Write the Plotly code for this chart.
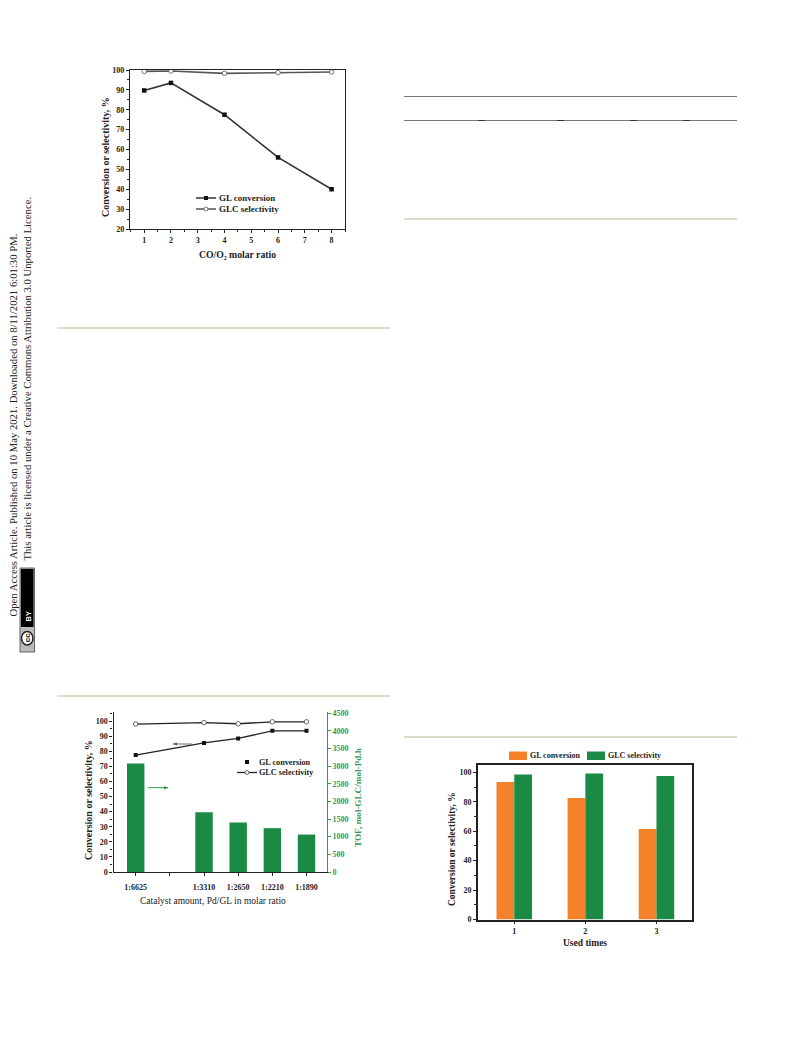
import plotly.graph_objects as go

W, H = 793, 1039
SERIF = "Liberation Serif"
SANS = "Liberation Sans"

# --- data ---
ratio_x = [1, 2, 4, 6, 8]
ratio_conv = [89.7, 93.5, 77.5, 56.0, 40.0]
ratio_sel = [99.3, 99.5, 98.3, 98.7, 99.0]

cat_pos = [0, 2, 3, 4, 5]
cat_tick_text = ["1:6625", "1:3310", "1:2650", "1:2210", "1:1890"]
cat_conv = [77.5, 85.5, 88.5, 93.5, 93.5]
cat_sel = [98.0, 99.0, 98.2, 99.5, 99.5]
cat_tof = [3070, 1695, 1400, 1240, 1060]

used_x = [1, 2, 3]
used_conv = [93.5, 82.5, 61.5]
used_sel = [98.5, 99.3, 97.5]

BLACK = "#222222"
GREEN = "#1b8a45"
GREEN_TXT = "#2f9a5c"
ORANGE = "#f5822a"
RULE = "#dcdccb"


def px(x):
    return x / W


def py(y):
    return 1 - y / H


fig = go.Figure()

# chart 1
fig.add_trace(go.Scatter(x=ratio_x, y=ratio_conv, name="GL conversion", xaxis="x", yaxis="y",
                         mode="lines+markers", line=dict(color="#333333", width=1.6),
                         marker=dict(symbol="square", size=4.5, color="#111111")))
fig.add_trace(go.Scatter(x=ratio_x, y=ratio_sel, name="GLC selectivity", xaxis="x", yaxis="y",
                         mode="lines+markers", line=dict(color="#555555", width=1.6),
                         marker=dict(symbol="circle", size=4.5, color="white", line=dict(color="#555555", width=0.8))))

# chart 2
fig.add_trace(go.Bar(x=cat_pos, y=cat_tof, name="TOF", xaxis="x2", yaxis="y3", width=0.51,
                     marker=dict(color=GREEN, line=dict(width=0))))
fig.add_trace(go.Scatter(x=cat_pos, y=cat_conv, name="GL conversion", xaxis="x2", yaxis="y2",
                         mode="lines+markers", line=dict(color="#222222", width=1.3),
                         marker=dict(symbol="square", size=4, color="#111111")))
fig.add_trace(go.Scatter(x=cat_pos, y=cat_sel, name="GLC selectivity", xaxis="x2", yaxis="y2",
                         mode="lines+markers", line=dict(color="#222222", width=1.3),
                         marker=dict(symbol="circle", size=4.5, color="white", line=dict(color="#444444", width=0.8))))

# chart 3
fig.add_trace(go.Bar(x=used_x, y=used_conv, name="GL conversion", xaxis="x4", yaxis="y4",
                     marker=dict(color=ORANGE, line=dict(width=0))))
fig.add_trace(go.Bar(x=used_x, y=used_sel, name="GLC selectivity", xaxis="x4", yaxis="y4",
                     marker=dict(color=GREEN, line=dict(width=0))))

tick_font = dict(family=SERIF, size=8, color="#222222", weight="bold")
green_font = dict(family=SERIF, size=8, color=GREEN_TXT, weight="bold")

fig.update_layout(
    width=W, height=H, margin=dict(l=0, r=0, t=0, b=0, pad=0, autoexpand=False), autosize=False,
    paper_bgcolor="white", plot_bgcolor="rgba(0,0,0,0)", showlegend=False,
    barmode="group", bargap=0.5, bargroupgap=0,
    font=dict(family=SERIF, color="#222222"),
    xaxis=dict(domain=[px(130), px(345)], range=[0.47, 8.5], anchor="y", tickvals=list(range(1, 9)),
               ticks="outside", ticklen=3, tickwidth=1, tickcolor=BLACK, tickfont=tick_font,
               showline=True, mirror=True, linecolor=BLACK, linewidth=1.3, showgrid=False, zeroline=False,
               ticklabelstandoff=0,
               minor=dict(tick0=0.5, dtick=1, ticks="outside", ticklen=2, tickcolor=BLACK, showgrid=False)),
    yaxis=dict(domain=[py(229), py(70)], range=[20, 100], anchor="x", dtick=10,
               ticks="outside", ticklen=3, tickwidth=1, tickcolor=BLACK, tickfont=tick_font,
               showline=True, mirror=True, linecolor=BLACK, linewidth=1.3, showgrid=False, zeroline=False,
               minor=dict(dtick=5, ticks="outside", ticklen=2, tickcolor=BLACK, showgrid=False)),
    xaxis2=dict(domain=[px(113.5), px(327)], range=[-0.65, 5.6], anchor="y2", tickvals=cat_pos,
                ticktext=cat_tick_text, ticks="outside", ticklen=3, tickwidth=1, tickcolor=BLACK,
                tickfont=tick_font, showline=True, linecolor=BLACK, linewidth=1.2, showgrid=False,
                zeroline=False, ticklabelstandoff=4,
                minor=dict(tick0=0, dtick=1, ticks="outside", ticklen=3, tickcolor=BLACK, showgrid=False)),
    yaxis2=dict(domain=[py(872), py(712)], range=[0, 106], anchor="x2", dtick=10,
                ticks="outside", ticklen=3, tickwidth=1, tickcolor=BLACK, tickfont=tick_font,
                showline=True, linecolor=BLACK, linewidth=1.2, showgrid=False, zeroline=False,
                minor=dict(dtick=5, ticks="outside", ticklen=2, tickcolor=BLACK, showgrid=False)),
    yaxis3=dict(domain=[py(872), py(712)], range=[0, 4530], anchor="x2", overlaying="y2", side="right",
                dtick=500, ticks="outside", ticklen=3, tickwidth=1, tickcolor=GREEN_TXT, tickfont=green_font,
                showline=True, linecolor=GREEN_TXT, linewidth=1, showgrid=False, zeroline=False),
    xaxis4=dict(domain=[px(478), px(692)], range=[0.49, 3.5], anchor="y4", tickvals=used_x,
                ticks="outside", ticklen=3, tickwidth=1, tickcolor=BLACK, tickfont=tick_font,
                showline=True, mirror=True, linecolor=BLACK, linewidth=1.6, showgrid=False, zeroline=False,
                ticklabelstandoff=0),
    yaxis4=dict(domain=[py(919.5), py(765)], range=[0, 105], anchor="x4", dtick=20,
                ticks="outside", ticklen=3, tickwidth=1, tickcolor=BLACK, tickfont=tick_font,
                showline=True, mirror=True, linecolor=BLACK, linewidth=1.6, showgrid=False, zeroline=False,
                minor=dict(dtick=10, ticks="outside", ticklen=2, tickcolor=BLACK, showgrid=False)),
)


def label(text, x, y, size=9.5, bold=True, angle=0, color="#222222", anchor="center", family=SERIF):
    fig.add_annotation(text=text, xref="paper", yref="paper", x=px(x), y=py(y), xanchor=anchor, yanchor="middle",
                       showarrow=False, textangle=angle, borderpad=0,
                       font=dict(family=family, size=size, color=color, weight="bold" if bold else "normal"))


def hline(x0, x1, y, color, width):
    fig.add_shape(type="line", xref="paper", yref="paper", x0=px(x0), x1=px(x1), y0=py(y), y1=py(y),
                  line=dict(color=color, width=width))


def box(kind, x0, x1, y0, y1, fill, line=None, lw=0):
    fig.add_shape(type=kind, xref="paper", yref="paper", x0=px(x0), x1=px(x1), y0=py(y1), y1=py(y0),
                  fillcolor=fill, line=dict(color=line or fill, width=lw))


def arrow(x0, x1, y, color):
    hline(x0, x1, y, color, 0.9)
    d = 4 if x1 > x0 else -4
    path = f"M {px(x1)} {py(y)} L {px(x1 - d)} {py(y - 1.5)} L {px(x1 - d)} {py(y + 1.5)} Z"
    fig.add_shape(type="path", xref="paper", yref="paper", path=path, fillcolor=color, line=dict(color=color, width=0))


# axis titles
label("CO/O\u2082 molar ratio", 237, 254, size=9.7)
label("Conversion or selectivity, %", 105, 157, size=10, angle=-90)
label("Catalyst amount, Pd/GL in molar ratio", 213, 901, size=9.5, bold=False)
label("Conversion or selectivity, %", 88, 800, size=10, angle=-90)
label("TOF, mol-GLC/mol-Pd.h", 358, 798, size=9.2, angle=-90, color=GREEN_TXT)
label("Used times", 585, 943)
label("Conversion or selectivity, %", 452, 849, angle=-90)

# legend chart 1
hline(196, 216, 198, "#333333", 1.5)
box("rect", 204, 208, 196, 200, "#111111")
label("GL conversion", 218, 198, size=9, anchor="left")
hline(196, 216, 209, "#555555", 1.5)
box("circle", 204, 208, 207, 211, "white", "#555555", 0.8)
label("GLC selectivity", 218, 209, size=9, anchor="left")

# legend chart 2
box("rect", 245, 249, 760, 764, "#111111")
label("GL conversion", 257.5, 762, size=8.2, anchor="left")
hline(237, 257, 772.5, "#222222", 1.3)
box("circle", 245, 249, 770.5, 774.5, "white", "#444444", 0.8)
label("GLC selectivity", 257.5, 772.5, size=8.2, anchor="left")

# legend chart 3
box("rect", 509, 527, 751.5, 760, ORANGE)
label("GL conversion", 529, 755.5, size=8, anchor="left")
box("rect", 587, 605, 751.5, 760, GREEN)
label("GLC selectivity", 607, 755.5, size=8, anchor="left")

# direction arrows in chart 2
arrow(191.7, 173, 744, "#555555")
arrow(148, 168, 787.7, GREEN)

# page margin text
label("Open Access Article. Published on 10 May 2021. Downloaded on 8/11/2021 6:01:30 PM.", 12.5, 425, size=10.7,
      bold=False, angle=-90)
label("This article is licensed under a Creative Commons Attribution 3.0 Unported Licence.", 26.5, 379, size=10.7,
      bold=False, angle=-90)

# page rules
hline(57, 390, 328, RULE, 2)
hline(57, 390, 696, RULE, 2)
hline(404, 737, 219, RULE, 2)
hline(404, 737, 737, RULE, 2)
hline(404, 737, 96.5, "#777777", 1)
hline(404, 737, 120.5, "#777777", 1)
for a, b in [(478, 485), (557, 564), (630, 637), (683, 690)]:
    hline(a, b, 120.5, "#333333", 1)

# licence badge
box("rect", 20, 34.5, 568, 652, "#b9bdb9", "#444444", 0.8)
box("rect", 21, 33.5, 569, 627, "#000000")
box("circle", 21.5, 33, 631.5, 645, "white", "#222222", 1.5)
label("BY", 27.5, 617, size=7.5, angle=-90, color="white", family=SANS)
label("cc", 27.3, 638, size=8, angle=-90, color="#111111", family=SANS)

fig.write_html("out.html", post_script="document.body.style.margin='0';", config={"displayModeBar": False})
